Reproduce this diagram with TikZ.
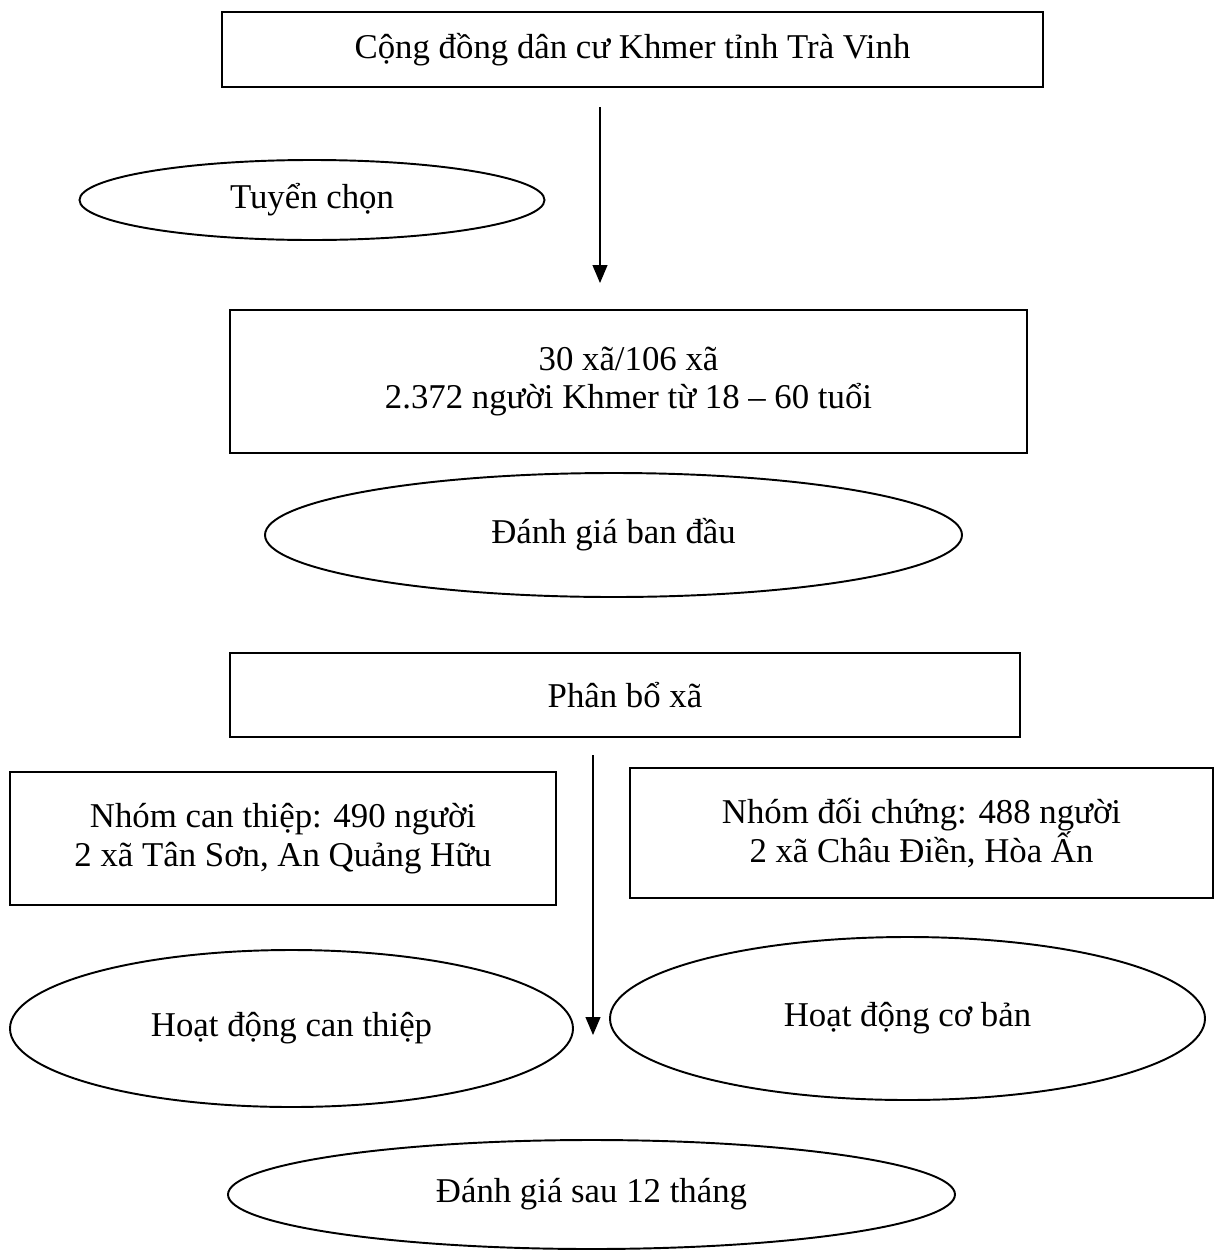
\documentclass[tikz,border=0pt]{standalone}
\usepackage{fontspec}
\setmainfont{Liberation Serif}
\usetikzlibrary{shapes.geometric,arrows.meta}

\begin{document}
\begin{tikzpicture}[
    stagebox/.style={rectangle, draw, line width=1.1pt, align=center, inner sep=0pt, font=\fontsize{19.8}{22}\selectfont},
    phase/.style={ellipse, draw, line width=1.1pt, align=center, inner sep=0pt, font=\fontsize{19.8}{22}\selectfont},
    arrow/.style={-{Triangle[width=0.3cm, length=0.36cm]}, line width=0.6pt}
]
\useasboundingbox (0,0) rectangle (24.32,-25.02);

% Population and selection
\node[stagebox, minimum width=16.42cm, minimum height=1.5cm] (pop) at (12.65,-0.99) {Cộng đồng dân cư Khmer tỉnh Trà Vinh};
\node[phase, minimum width=9.3cm, minimum height=1.6cm] (select) at (6.24,-4.0) {Tuyển chọn};

\coordinate (s0) at (12.0,-2.14);
\coordinate (s1) at (12.0,-5.66);
\draw[arrow] (s0) -- (s1);

% Sample
\node[stagebox, minimum width=15.94cm, minimum height=2.86cm] (sample) at (12.57,-7.63) {30 xã/106 xã\\2.372 người Khmer từ 18 – 60 tuổi};
\node[phase, minimum width=13.94cm, minimum height=2.48cm] (base) at (12.27,-10.7) {Đánh giá ban đầu};

% Allocation
\node[stagebox, minimum width=15.8cm, minimum height=1.68cm] (alloc) at (12.5,-13.9) {Phân bổ xã};
\node[stagebox, minimum width=10.92cm, minimum height=2.66cm] (interv) at (5.66,-16.77) {Nhóm can thiệp: 490 người\\2 xã Tân Sơn, An Quảng Hữu};
\node[stagebox, minimum width=11.66cm, minimum height=2.6cm] (control) at (18.43,-16.66) {Nhóm đối chứng: 488 người\\2 xã Châu Điền, Hòa Ấn};

\coordinate (t0) at (11.86,-15.1);
\coordinate (t1) at (11.86,-20.7);
\draw[arrow] (t0) -- (t1);

% Activities
\node[phase, minimum width=11.26cm, minimum height=3.14cm] (actA) at (5.83,-20.57) {Hoạt động can thiệp};
\node[phase, minimum width=11.9cm, minimum height=3.26cm] (actB) at (18.15,-20.37) {Hoạt động cơ bản};

% Follow-up
\node[phase, minimum width=14.54cm, minimum height=2.18cm] (follow) at (11.83,-23.89) {Đánh giá sau 12 tháng};

\end{tikzpicture}
\end{document}
